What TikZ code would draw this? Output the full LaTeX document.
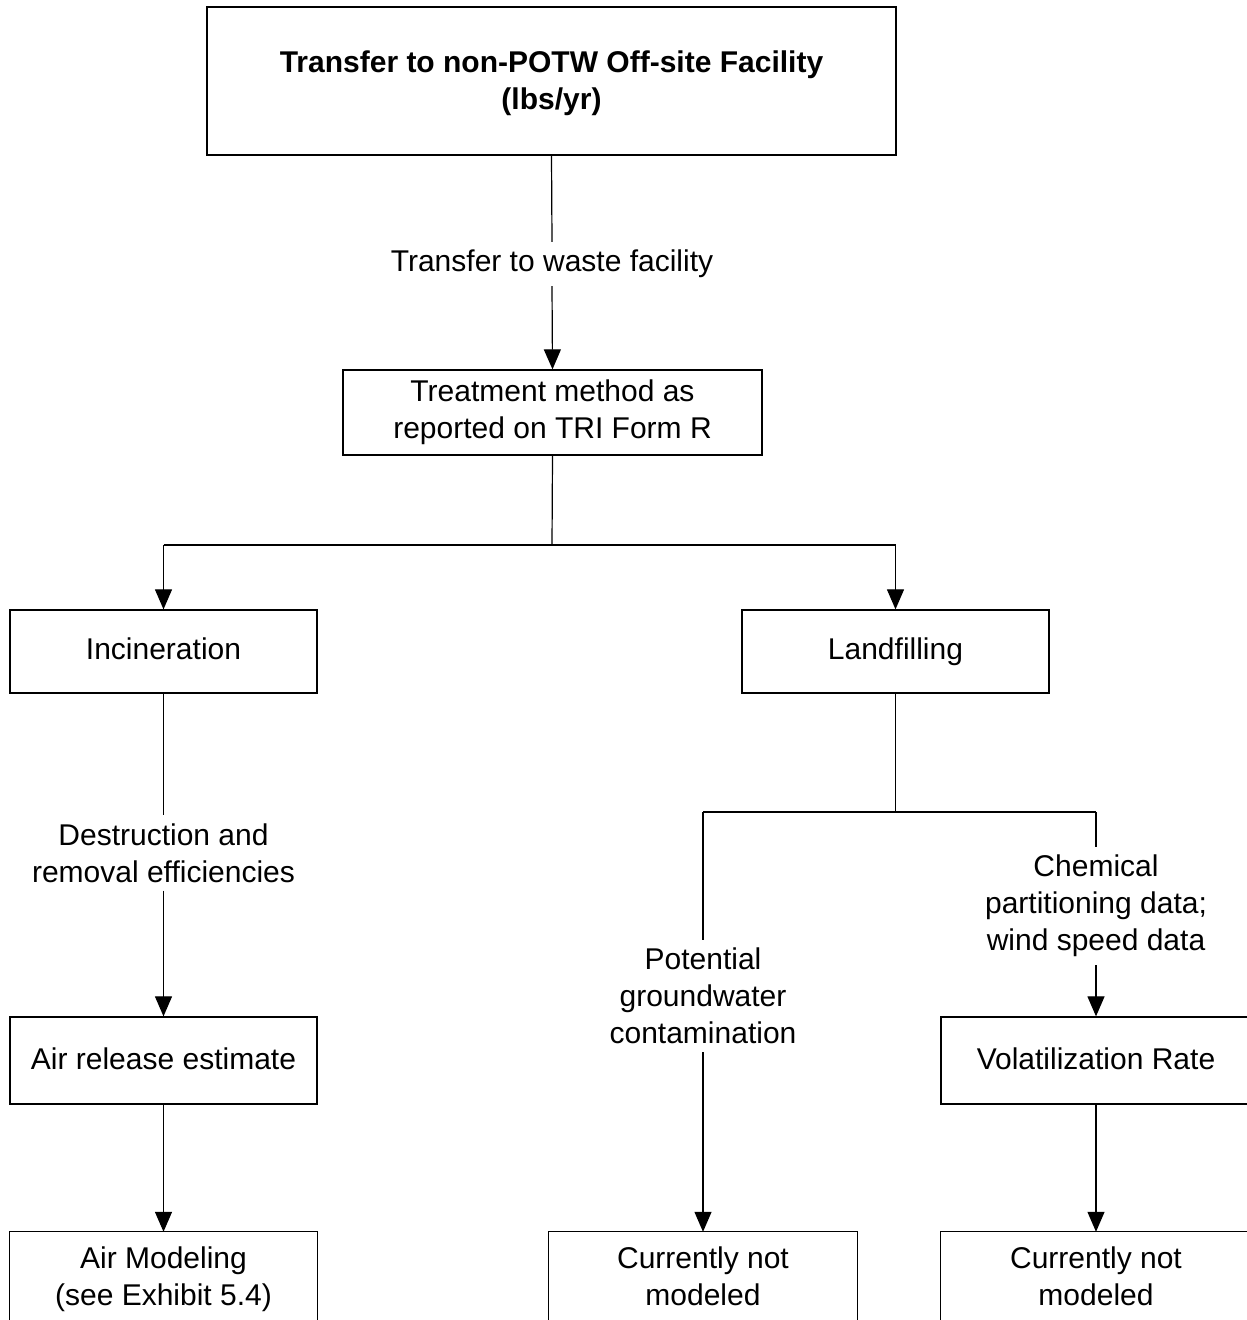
\documentclass[tikz,border=0pt]{standalone}
\usepackage{fontspec}
\setmainfont{Liberation Sans}
\usetikzlibrary{arrows.meta}
\begin{document}
\begin{tikzpicture}[x=1pt,y=-1pt,
  every node/.style={font=\fontsize{30pt}{37pt}\selectfont, align=center},
  box/.style={draw, line width=1.3pt, inner sep=0pt},
  lbl/.style={inner sep=8pt},
  ln/.style={line width=1.2pt},
  arr/.style={line width=1.2pt, -{Triangle[length=20pt,width=17pt]}}]
\clip (0,0) rectangle (1247,1320);
\fill[white] (0,0) rectangle (1247,1320);
% boxes
\node[box, minimum width=689pt, minimum height=148pt] (top) at (551.5,81) {};
\node (toptext) at (551.5,83.5)
  {\bfseries Transfer to non-POTW Off-site Facility\\\bfseries (lbs/yr)};
\node[lbl] (l1) at (552,264) {Transfer to waste facility};
\node[box, minimum width=419pt, minimum height=85pt] (treat) at (552.5,412.5)
  {Treatment method as\\reported on TRI Form R};
\coordinate (j1) at (552,545);
\coordinate (jl) at (163.5,545);
\coordinate (jr) at (895.5,545);
\node[box, minimum width=307pt, minimum height=83pt] (inc) at (163.5,651.5) {};
\node (inctext) at (163.5,648.5) {Incineration};
\node[box, minimum width=307pt, minimum height=83pt] (land) at (895.5,651.5) {Landfilling};
\node[lbl] (l2) at (163.5,853) {Destruction and\\removal efficiencies};
\node[box, minimum width=307pt, minimum height=87pt] (air) at (163.5,1060.5) {};
\node (airtext) at (163.5,1058.5) {Air release estimate};
\node[minimum width=307pt, minimum height=88pt, inner sep=0pt] (airm) at (163.5,1276) {};
\node (airmtext) at (163.5,1279) {Air Modeling\\(see Exhibit 5.4)};
\coordinate (j2) at (895.5,812);
\coordinate (jl2) at (703,812);
\coordinate (jr2) at (1096,812);
\node[lbl] (l3) at (703,996) {Potential\\groundwater\\contamination};
\node[lbl] (l4) at (1096,906) {Chemical\\partitioning data;\\wind speed data};
\node[box, minimum width=310pt, minimum height=87pt] (vol) at (1096,1060.5) {};
\node (voltext) at (1096,1058.5) {Volatilization Rate};
\node[minimum width=308pt, minimum height=88pt, inner sep=0pt] (cn1) at (703,1276)
  {Currently not\\modeled};
\node[minimum width=310pt, minimum height=88pt, inner sep=0pt] (cn2) at (1096,1276)
  {Currently not\\modeled};
% open boxes at the bottom
\foreach \b in {airm,cn1,cn2}
  \draw[line width=1.3pt] ([yshift=-10pt]\b.south west) -- (\b.north west) -- (\b.north east) -- ([yshift=-10pt]\b.south east);
% connectors
\draw[ln] (top.south) -- (l1.north);
\draw[arr] (l1.south) -- (treat.north);
\draw[ln] (treat.south) -- (j1);
\draw[ln] (jl) -- (jr);
\draw[arr] (jl) -- (inc.north);
\draw[arr] (jr) -- (land.north);
\draw[ln] (inc.south) -- (l2.north);
\draw[arr] (l2.south) -- (air.north);
\draw[arr] (air.south) -- (airm.north);
\draw[ln] (land.south) -- (j2);
\draw[ln] (jl2) -- (jr2);
\draw[ln] (jl2) -- (l3.north);
\draw[arr] (l3.south) -- (cn1.north);
\draw[ln] (jr2) -- (l4.north);
\draw[arr] (l4.south) -- (vol.north);
\draw[arr] (vol.south) -- (cn2.north);
\end{tikzpicture}
\end{document}
